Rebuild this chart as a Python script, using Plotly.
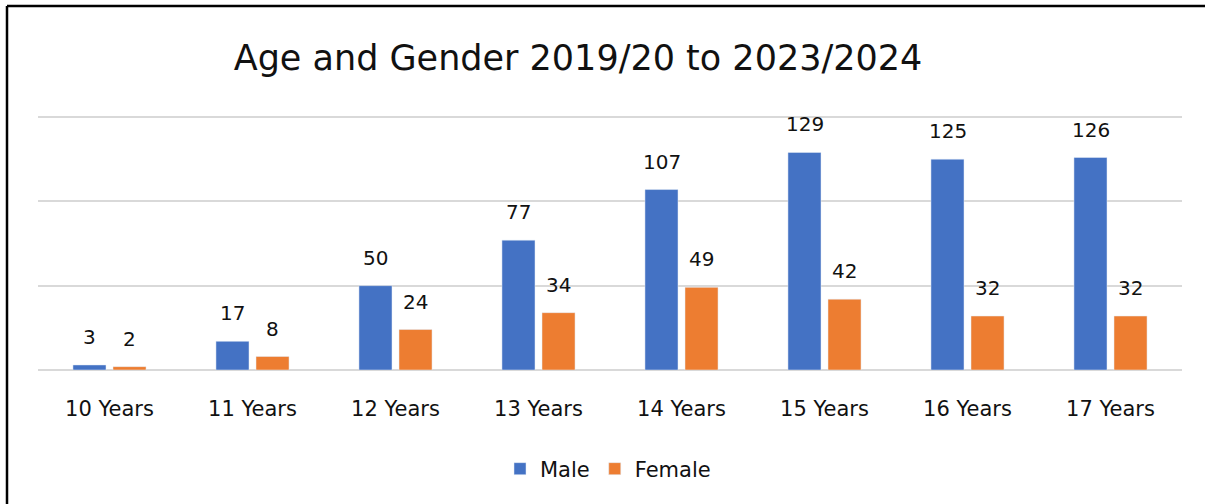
import plotly.graph_objects as go

# Offences by age and gender, 2019/20 to 2023/24
categories = ["10 Years", "11 Years", "12 Years", "13 Years",
              "14 Years", "15 Years", "16 Years", "17 Years"]
male = [3, 17, 50, 77, 107, 129, 125, 126]
female = [2, 8, 24, 34, 49, 42, 32, 32]

BLUE = "#4472C4"
ORANGE = "#ED7D31"
FONT = "DejaVu Sans"
TEXT = "#111111"

W, H = 1209, 504
L, R, T, B = 38, 27, 115, 134
YMAX = 151.2

fig = go.Figure()
fig.add_trace(go.Bar(name="Male", x=categories, y=male, marker_color=BLUE))
fig.add_trace(go.Bar(name="Female", x=categories, y=female, marker_color=ORANGE))

# value labels sitting above each bar
annotations = []
for series, shift in ((male, -20), (female, 20)):
    for cat, val in zip(categories, series):
        annotations.append(dict(
            x=cat, y=val, xref="x", yref="y", text=str(val),
            showarrow=False, xshift=shift, yshift=28, yanchor="middle",
            font=dict(family=FONT, size=20, color=TEXT)))

# chart frame: left and top edges
pw, ph = W - L - R, H - T - B
fx0 = (7 - L) / pw
fx1 = (1205 - L) / pw
fy1 = (H - B - 6) / ph
fy0 = (H - B - 520) / ph
shapes = [
    dict(type="line", xref="paper", yref="paper", x0=fx0, x1=fx0, y0=fy0, y1=fy1,
         line=dict(color="black", width=2.5)),
    dict(type="line", xref="paper", yref="paper", x0=fx0, x1=fx1, y0=fy1, y1=fy1,
         line=dict(color="black", width=2.5)),
]

fig.update_layout(
    width=W, height=H,
    margin=dict(l=L, r=R, t=T, b=B),
    paper_bgcolor="white", plot_bgcolor="white",
    barmode="group", bargap=0.44, bargroupgap=0.175,
    title=dict(text="Age and Gender 2019/20 to 2023/2024",
               x=578 / W, xanchor="center", xref="container",
               y=1 - 58 / H, yanchor="middle", yref="container",
               font=dict(family=FONT, size=35, color=TEXT)),
    font=dict(family=FONT, size=21, color=TEXT),
    legend=dict(orientation="h", x=(608 - L) / pw, xanchor="center",
                y=-(469 - (H - B)) / ph, yanchor="middle",
                font=dict(family=FONT, size=21, color=TEXT),
                itemwidth=30, traceorder="normal"),
    annotations=annotations,
    shapes=shapes,
    xaxis=dict(showgrid=False, showline=False, ticks="",
               tickfont=dict(family=FONT, size=21, color=TEXT),
               ticklabelstandoff=24),
    yaxis=dict(range=[0, YMAX], dtick=50, showticklabels=False,
               showgrid=True, gridcolor="#D9D9D9", gridwidth=1.5,
               zeroline=True, zerolinecolor="#D9D9D9", zerolinewidth=2),
)

fig.write_html("out.html")
